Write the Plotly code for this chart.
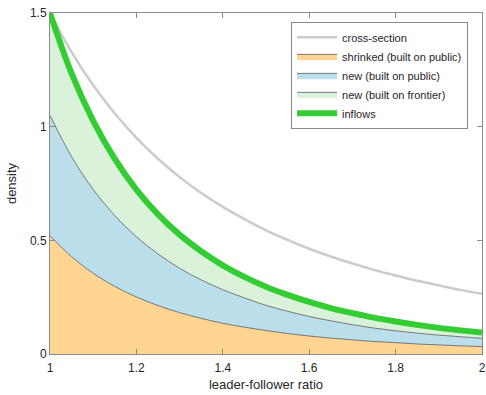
import plotly.graph_objects as go

ratio = [1.00, 1.05, 1.10, 1.15, 1.20, 1.25, 1.30, 1.35, 1.40, 1.45, 1.50,
         1.55, 1.60, 1.65, 1.70, 1.75, 1.80, 1.85, 1.90, 1.95, 2.00]

cross_section = [1.500, 1.328, 1.182, 1.058, 0.951, 0.859, 0.778, 0.708, 0.647, 0.593, 0.544,
                 0.502, 0.463, 0.429, 0.398, 0.370, 0.345, 0.322, 0.302, 0.282, 0.265]
shrinked_public = [0.520, 0.428, 0.355, 0.297, 0.251, 0.213, 0.182, 0.157, 0.135, 0.118, 0.103,
                   0.090, 0.079, 0.070, 0.062, 0.055, 0.050, 0.044, 0.040, 0.036, 0.0325]
new_public_top = [1.050, 0.868, 0.724, 0.609, 0.516, 0.440, 0.377, 0.326, 0.283, 0.247, 0.214,
                  0.188, 0.165, 0.146, 0.129, 0.114, 0.102, 0.092, 0.083, 0.076, 0.069]
inflows = [1.500, 1.234, 1.025, 0.858, 0.723, 0.614, 0.525, 0.452, 0.390, 0.339, 0.296,
           0.260, 0.229, 0.202, 0.180, 0.160, 0.143, 0.128, 0.115, 0.104, 0.094]

x_ticks = [1, 1.2, 1.4, 1.6, 1.8, 2]
x_tick_labels = ["1", "1.2", "1.4", "1.6", "1.8", "2"]
y_ticks = [0, 0.5, 1, 1.5]
y_tick_labels = ["0", "0.5", "1", "1.5"]

edge = "#5a5a5a"
fig = go.Figure()

fig.add_trace(go.Scatter(x=ratio, y=shrinked_public, name="shrinked (built on public)",
                         mode="lines", line=dict(color=edge, width=0.8, shape="spline"),
                         fill="tozeroy", fillcolor="#FFD591", legendrank=2))
fig.add_trace(go.Scatter(x=ratio, y=new_public_top, name="new (built on public)",
                         mode="lines", line=dict(color=edge, width=0.8, shape="spline"),
                         fill="tonexty", fillcolor="#BADFEA", legendrank=3))
fig.add_trace(go.Scatter(x=ratio, y=inflows, name="new (built on frontier)",
                         mode="lines", line=dict(color=edge, width=0.8, shape="spline"),
                         fill="tonexty", fillcolor="#DAF2DA", legendrank=4))
fig.add_trace(go.Scatter(x=ratio, y=cross_section, name="cross-section",
                         mode="lines", line=dict(color="#CBCBCB", width=2.5, shape="spline"),
                         legendrank=1))
fig.add_trace(go.Scatter(x=ratio, y=inflows, name="inflows",
                         mode="lines", line=dict(color="#33CC33", width=6, shape="spline"),
                         legendrank=5))

axis_common = dict(showline=True, linecolor="#8a8a8a", linewidth=1, mirror="ticks",
                   ticks="inside", ticklen=5, tickcolor="#8a8a8a", showgrid=False,
                   zeroline=False, automargin=False,
                   tickfont=dict(size=12, color="#262626"))

fig.update_layout(
    width=486, height=395,
    margin=dict(l=50, r=4, t=13, b=41),
    paper_bgcolor="white", plot_bgcolor="white",
    font=dict(family="Liberation Sans, Arial, sans-serif", color="#262626"),
    xaxis=dict(range=[1, 2], tickvals=x_ticks, ticktext=x_tick_labels,
               ticklabelstandoff=3,
               title=dict(text="leader-follower ratio", font=dict(size=13), standoff=5),
               **axis_common),
    yaxis=dict(range=[0, 1.5], tickvals=y_ticks, ticktext=y_tick_labels,
               title=dict(text="density", font=dict(size=13), standoff=10),
               **axis_common),
    legend=dict(x=0.558, y=0.974, xanchor="left", yanchor="top",
                traceorder="normal",
                bgcolor="white", bordercolor="#8a8a8a", borderwidth=1,
                font=dict(size=11, color="#262626"), tracegroupgap=0,
                itemwidth=40),
    showlegend=True,
)

fig.write_html("out.html")
